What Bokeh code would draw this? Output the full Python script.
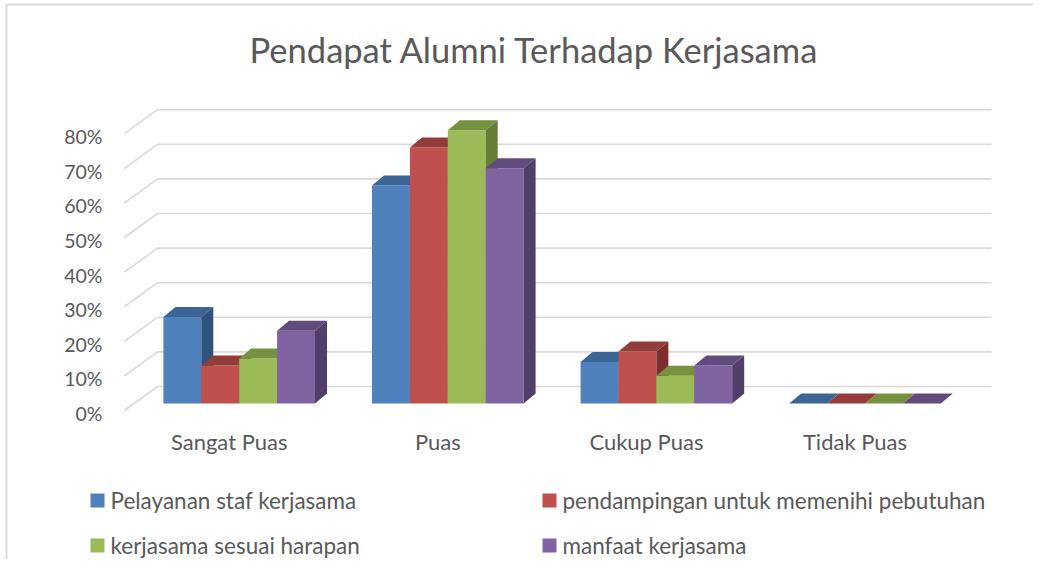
from bokeh.plotting import figure
from bokeh.models import Range1d, ColumnDataSource
from bokeh.embed import file_html
from bokeh.resources import INLINE
from bokeh.core.properties import value

# ---------------- data ----------------
categories = ["Sangat Puas", "Puas", "Cukup Puas", "Tidak Puas"]
series_names = ["Pelayanan staf kerjasama",
                "pendampingan untuk memenihi pebutuhan",
                "kerjasama sesuai harapan",
                "manfaat kerjasama"]
pelayanan = [25, 63, 12, 0]
pendampingan = [11, 74, 15, 0]
sesuai_harapan = [13, 79, 8, 0]
manfaat = [21, 68, 11, 0]
series_values = [pelayanan, pendampingan, sesuai_harapan, manfaat]
y_ticks = [0, 10, 20, 30, 40, 50, 60, 70, 80]
y_tick_labels = ["0%", "10%", "20%", "30%", "40%", "50%", "60%", "70%", "80%"]
title_text = "Pendapat Alumni Terhadap Kerjasama"

# ---------------- style ----------------
front_colors = ["#4F81BD", "#C0504D", "#9BBB59", "#8064A2"]
top_colors = ["#3C6494", "#943C3A", "#76913F", "#624C7E"]
side_colors = ["#30517B", "#7E2F2D", "#667D35", "#523F69"]
TEXT = "#595959"
GRID = "#D9D9D9"
FONT = "Lato"

W, H = 1033, 559
PX_X = 208.6      # pixels per category step
PX_Y = 3.46       # pixels per percent
X0_PAGE = 238.7   # x of first group's centre
Y0_PAGE = 403.0   # y of bar bottoms
OFF = 0

def sx(px):
    return (px - X0_PAGE) / PX_X

def sy(py):
    return (Y0_PAGE - py) / PX_Y

p = figure(width=W, height=H, output_backend="svg", toolbar_location=None,
           x_range=Range1d(sx(OFF), sx(OFF + W)),
           y_range=Range1d(sy(OFF + H), sy(OFF)),
           min_border=0, min_border_left=0, min_border_right=0,
           min_border_top=0, min_border_bottom=0)
p.axis.visible = False
p.grid.visible = False
p.outline_line_color = None
p.background_fill_color = "white"
p.border_fill_color = "white"

# chart border (left & top)
p.segment(x0=[sx(6), sx(6)], y0=[sy(4), sy(4)],
          x1=[sx(6), sx(OFF + W)], y1=[sy(OFF + H), sy(4)],
          line_color="#D9D9D9", line_width=2)

# 3D wall gridlines
back_off = sy(386)
front_off = sy(410)
x_front = sx(124)
x_back0 = sx(157)
x_back1 = sx(991)
xs = [[x_front, x_back0, x_back1] for t in y_ticks]
ys = [[t + front_off, t + back_off, t + back_off] for t in y_ticks]
p.multi_line(xs=xs, ys=ys, line_color=GRID, line_width=1.6)

# y tick labels
p.text(x=[sx(102)] * len(y_ticks), y=[t + sy(413) for t in y_ticks],
       text=y_tick_labels, text_align="right", text_baseline="middle",
       text_font=value(FONT), text_font_size="19.5px", text_color=TEXT)

# bars (3D)
bar_w = 37.9 / PX_X
ddx = 12.0 / PX_X
ddy = 10.0 / PX_Y
for s, vals in enumerate(series_values):
    lefts = [i - 2 * bar_w + s * bar_w for i in range(len(categories))]
    rights = [l + bar_w for l in lefts]
    src = ColumnDataSource(dict(left=lefts, right=rights, top=vals,
                                bottom=[0] * len(vals)))
    p.quad(left="left", right="right", top="top", bottom="bottom",
           source=src, fill_color=front_colors[s], line_color=None)
    top_xs = [[l, rr, rr + ddx, l + ddx] for l, rr in zip(lefts, rights)]
    top_ys = [[v, v, v + ddy, v + ddy] for v in vals]
    p.patches(xs=top_xs, ys=top_ys, fill_color=top_colors[s], line_color=None)
    side_xs = [[rr, rr + ddx, rr + ddx, rr] for rr in rights]
    side_ys = [[v, v + ddy, ddy, 0] for v in vals]
    p.patches(xs=side_xs, ys=side_ys, fill_color=side_colors[s], line_color=None)

# category labels
p.text(x=[i + sx(X0_PAGE - 10) for i in range(len(categories))],
       y=[sy(441)] * len(categories), text=categories,
       text_align="center", text_baseline="middle",
       text_font=value(FONT), text_font_size="22px", text_color=TEXT)

# title
p.text(x=[sx(534)], y=[sy(48.5)], text=[title_text], text_align="center",
       text_baseline="middle", text_font=value(FONT), text_font_size="34.5px",
       text_color=TEXT)

# legend (two columns, two rows)
leg_x = [90, 542, 90, 542]
leg_y = [500, 500, 545, 545]
order = [0, 1, 2, 3]
sq = 14
p.quad(left=[sx(leg_x[k]) for k in order], right=[sx(leg_x[k] + sq) for k in order],
       top=[sy(leg_y[k] - sq / 2) for k in order], bottom=[sy(leg_y[k] + sq / 2) for k in order],
       fill_color=[front_colors[k] for k in order], line_color=None)
p.text(x=[sx(leg_x[k] + sq + 6) for k in order], y=[sy(leg_y[k]) for k in order],
       text=[series_names[k] for k in order], text_align="left", text_baseline="middle",
       text_font=value(FONT), text_font_size="22.5px", text_color=TEXT)

open("out.html", "w").write(file_html(p, INLINE))
